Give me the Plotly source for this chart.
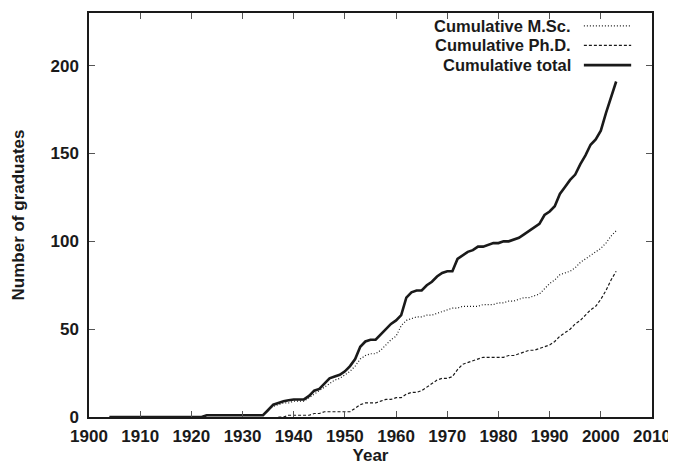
import plotly.graph_objects as go

years = list(range(1904, 2004))

total = ([0] * 19 + [1] * 11 +
         [1, 4, 7, 8, 9, 9.5, 10, 10, 10, 12,
          15, 16, 19, 22, 23, 24, 26, 29, 33, 40,
          43, 44, 44, 47, 50, 53, 55, 58, 68, 71,
          72, 72, 75, 77, 80, 82, 83, 83, 90, 92,
          94, 95, 97, 97, 98, 99, 99, 100, 100, 101,
          102, 104, 106, 108, 110, 115, 117, 120, 127, 131,
          135, 138, 144, 149, 155, 158, 163, 173, 182, 191])

msc = ([0] * 19 + [1] * 11 +
       [1, 4, 6, 7, 8, 8, 9, 9, 9, 11,
        13, 15, 17, 19, 21, 22, 24, 26, 29, 33,
        35, 36, 36, 38, 41, 44, 46, 52, 55, 56,
        57, 57, 58, 58, 59, 60, 61, 62, 62, 63,
        63, 63, 63, 64, 64, 64, 65, 65, 66, 66,
        67, 68, 68, 69, 70, 73, 76, 78, 81, 82,
        83, 85, 88, 90, 92, 94, 96, 99, 103, 106])

phd_years = list(range(1937, 2004))
phd = [0, 0, 1, 1, 1, 1, 1, 2, 2, 3,
       3, 3, 3, 3, 3, 5, 7, 8, 8, 8,
       9, 10, 10, 11, 11, 13, 14, 14, 15, 17,
       19, 21, 22, 22, 23, 27, 30, 31, 32, 33,
       34, 34, 34, 34, 34, 35, 35, 36, 37, 38,
       38, 39, 40, 41, 43, 46, 48, 50, 53, 55,
       58, 61, 63, 67, 72, 78, 83]

x_ticks = list(range(1900, 2011, 10))
y_ticks = [0, 50, 100, 150, 200]
legend_labels = ["Cumulative M.Sc.", "Cumulative Ph.D.", "Cumulative total"]

ink = "#1a1a1a"
font = "Liberation Sans, Arial, Helvetica, sans-serif"
dot_style = "1px,2px"
dash_style = "3px,2px"

fig = go.Figure()
fig.add_trace(go.Scatter(x=years, y=msc, mode="lines",
                         line=dict(color=ink, width=1.2, dash=dot_style),
                         showlegend=False))
fig.add_trace(go.Scatter(x=phd_years, y=phd, mode="lines",
                         line=dict(color=ink, width=1.2, dash=dash_style),
                         showlegend=False))
fig.add_trace(go.Scatter(x=years, y=total, mode="lines",
                         line=dict(color=ink, width=2.6),
                         showlegend=False))

# legend drawn gnuplot-style: text right-aligned, sample line on the right
legend_dash = [dot_style, dash_style, "solid"]
legend_width = [1.2, 1.2, 2.6]
legend_y = [0.968, 0.920, 0.871]
for lab, d, w, yy in zip(legend_labels, legend_dash, legend_width, legend_y):
    fig.add_annotation(x=0.860, y=yy, xref="paper", yref="paper",
                       text="<b>%s</b>" % lab, showarrow=False,
                       xanchor="right", yanchor="middle",
                       font=dict(family=font, size=16.5, color=ink))
    fig.add_shape(type="line", xref="paper", yref="paper",
                  x0=0.879, x1=0.963, y0=yy, y1=yy,
                  line=dict(color=ink, width=w, dash=d))

axis_common = dict(
    showgrid=False, zeroline=False, showline=True, linecolor=ink,
    linewidth=1.5, mirror="ticks", ticks="inside", ticklen=6,
    tickcolor="#555", tickwidth=1, automargin=False,
    tickfont=dict(family=font, size=17, color=ink),
)

fig.update_layout(
    width=676, height=465,
    margin=dict(l=81, r=32, t=5, b=56),
    paper_bgcolor="white", plot_bgcolor="white",
    xaxis=dict(range=[1900, 2010], tickvals=x_ticks,
               ticktext=["<b>%d</b>" % v for v in x_ticks],
               ticklabelstandoff=3,
               title=dict(text="<b>Year</b>", standoff=3,
                          font=dict(family=font, size=17, color=ink)),
               **axis_common),
    yaxis=dict(range=[0, 230], tickvals=y_ticks,
               ticktext=["<b>%d</b>" % v for v in y_ticks],
               ticklabelstandoff=5,
               title=dict(text="<b>Number of graduates</b>", standoff=22,
                          font=dict(family=font, size=17, color=ink)),
               **axis_common),
)

fig.write_html("out.html")
